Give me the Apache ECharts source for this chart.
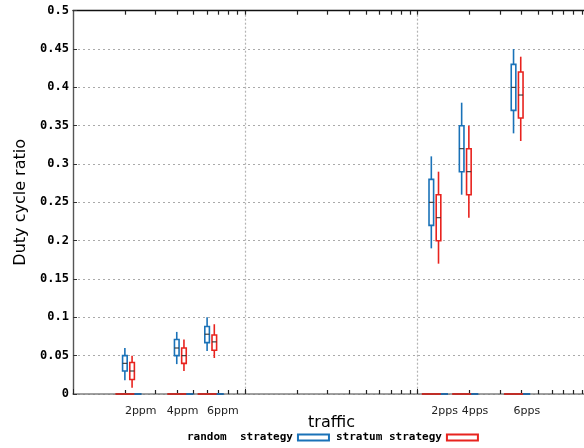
<!DOCTYPE html>
<html>
<head>
<meta charset="utf-8">
<script src="https://cdn.jsdelivr.net/npm/echarts@6/dist/echarts.min.js"></script>
<style>
  html, body { margin: 0; padding: 0; background: #fff; }
  #chart { width: 584px; height: 448px; }
</style>
</head>
<body>
<div id="chart"></div>
<script>
// Traffic levels (x position in packets per minute, log axis)
const categories = ['2ppm', '4ppm', '6ppm', '2pps', '4pps', '6pps'];
const trafficPpm = [2, 4, 6, 120, 180, 360];
const labelAt = [2, 3.5, 6, 120, 180, 360];

// Duty cycle ratio, random strategy
const randomMin = [0.018, 0.039, 0.056, 0.19, 0.26, 0.34];
const randomQ1 = [0.030, 0.050, 0.067, 0.22, 0.29, 0.37];
const randomMedian = [0.040, 0.060, 0.078, 0.25, 0.32, 0.40];
const randomQ3 = [0.050, 0.071, 0.088, 0.28, 0.35, 0.43];
const randomMax = [0.060, 0.081, 0.100, 0.31, 0.38, 0.45];

// Duty cycle ratio, stratum strategy
const stratumMin = [0.008, 0.030, 0.047, 0.17, 0.23, 0.33];
const stratumQ1 = [0.019, 0.040, 0.057, 0.20, 0.26, 0.36];
const stratumMedian = [0.030, 0.050, 0.068, 0.23, 0.29, 0.39];
const stratumQ3 = [0.041, 0.060, 0.077, 0.26, 0.32, 0.42];
const stratumMax = [0.050, 0.071, 0.091, 0.29, 0.35, 0.44];

// Flat baseline bars at zero
const randomBase = [0, 0, 0, 0, 0, 0];
const stratumBase = [0, 0, 0, 0, 0, 0];

const yTicks = [0, 0.05, 0.1, 0.15, 0.2, 0.25, 0.3, 0.35, 0.4, 0.45, 0.5];

const RANDOM = 'random  strategy';
const STRATUM = 'stratum strategy';
const BLUE = '#1a72b8';
const RED = '#e8231e';

// minor + major tick positions for the log axis
const logTicks = [];
[1, 10, 100].forEach(function (d) {
  for (let k = 2; k <= 10; k++) logTicks.push(k * d);
});

function boxData(mins, q1, med, q3, maxs) {
  return trafficPpm.map(function (x, i) {
    return [x, mins[i], q1[i], med[i], q3[i], maxs[i]];
  });
}
function baseData(vals) {
  return trafficPpm.map(function (x, i) { return [x, vals[i]]; });
}

function boxRenderer(color, shift) {
  return function (params, api) {
    const x = api.value(0);
    const pMin = api.coord([x, api.value(1)]);
    const pQ1 = api.coord([x, api.value(2)]);
    const pMed = api.coord([x, api.value(3)]);
    const pQ3 = api.coord([x, api.value(4)]);
    const pMax = api.coord([x, api.value(5)]);
    const cx = pMed[0] + shift;
    const w = 4.6;
    const lw = 1.6;
    return {
      type: 'group',
      children: [
        { type: 'line', shape: { x1: cx, y1: pMin[1], x2: cx, y2: pQ1[1] },
          style: { stroke: color, lineWidth: lw } },
        { type: 'line', shape: { x1: cx, y1: pQ3[1], x2: cx, y2: pMax[1] },
          style: { stroke: color, lineWidth: lw } },
        { type: 'rect', shape: { x: cx - w / 2, y: pQ3[1], width: w, height: pQ1[1] - pQ3[1] },
          style: { fill: 'rgba(0,0,0,0)', stroke: color, lineWidth: lw } },
        { type: 'line', shape: { x1: cx - w / 2, y1: pMed[1], x2: cx + w / 2, y2: pMed[1] },
          style: { stroke: '#333', lineWidth: 1.1 } }
      ]
    };
  };
}

function baseRenderer(color, shift) {
  return function (params, api) {
    const p = api.coord([api.value(0), api.value(1)]);
    const cx = p[0] + shift;
    return {
      type: 'line',
      shape: { x1: cx - 9.5, y1: p[1], x2: cx + 9.5, y2: p[1] },
      style: { stroke: color, lineWidth: 2 }
    };
  };
}

const RED_SHIFT = 7.2;

const chart = echarts.init(document.getElementById('chart'), null, { renderer: 'canvas' });

chart.setOption({
  animation: false,
  backgroundColor: '#fff',
  grid: { left: 73, top: 10.7, width: 517, height: 383.3, containLabel: false, outerBoundsMode: 'none' },
  legend: {
    left: 182,
    top: 427,
    align: 'right',
    itemWidth: 31,
    itemHeight: 6,
    itemGap: 6,
    selectedMode: false,
    textStyle: { fontFamily: 'DejaVu Sans Mono', fontWeight: 'bold', fontSize: 11, color: '#000' },
    data: [
      { name: RANDOM, icon: 'rect', itemStyle: { color: 'rgba(0,0,0,0)', borderColor: BLUE, borderWidth: 2 } },
      { name: STRATUM, icon: 'rect', itemStyle: { color: 'rgba(0,0,0,0)', borderColor: RED, borderWidth: 2 } }
    ]
  },
  xAxis: [
    {
      type: 'log', logBase: 10, min: 1, max: 1000, position: 'bottom',
      name: 'traffic', nameLocation: 'middle', nameGap: 21, nameMoveOverlap: false,
      nameTextStyle: { fontFamily: 'DejaVu Sans', fontSize: 16, color: '#000' },
      axisLine: { show: true, lineStyle: { color: '#808080', width: 1.5 } },
      axisTick: { show: true, inside: true, length: 5, lineStyle: { color: '#222' } },
      axisLabel: {
        customValues: labelAt,
        align: 'left',
        margin: 12,
        fontFamily: 'DejaVu Sans', fontSize: 11, color: '#222',
        formatter: function (v) {
          for (let i = 0; i < labelAt.length; i++) {
            if (Math.abs(labelAt[i] - v) < 1e-6 * labelAt[i]) return categories[i];
          }
          return '';
        }
      },
      splitLine: { show: true, showMinLine: false, lineStyle: { color: '#b4b4b4', type: [2, 2], width: 1.2 } }
    },
    {
      type: 'log', logBase: 10, min: 1, max: 1000, position: 'bottom',
      axisLine: { show: false },
      axisTick: { show: true, inside: true, length: 4, customValues: logTicks, lineStyle: { color: '#222', width: 1.2 } },
      axisLabel: { show: false },
      splitLine: { show: false }
    },
    {
      type: 'log', logBase: 10, min: 1, max: 1000, position: 'top',
      axisLine: { show: true, lineStyle: { color: '#111', width: 1.4 } },
      axisTick: { show: true, inside: true, length: 4, customValues: logTicks, lineStyle: { color: '#222', width: 1.2 } },
      axisLabel: { show: false },
      splitLine: { show: false }
    }
  ],
  yAxis: {
    type: 'value', min: 0, max: 0.5, interval: 0.05,
    name: 'Duty cycle ratio', nameLocation: 'middle', nameGap: 44, nameMoveOverlap: false,
    nameTextStyle: { fontFamily: 'DejaVu Sans', fontSize: 16, color: '#000' },
    axisLine: { show: true, lineStyle: { color: '#555', width: 1.4 } },
    axisTick: { show: true, inside: true, length: 4, lineStyle: { color: '#333' } },
    axisLabel: {
      margin: 4,
      fontFamily: 'DejaVu Sans Mono', fontWeight: 'bold', fontSize: 12, color: '#000',
      customValues: yTicks
    },
    splitLine: { show: true, lineStyle: { color: '#aaaaaa', type: [2, 3], width: 1 } }
  },
  series: [
    {
      name: RANDOM, type: 'custom', coordinateSystem: 'cartesian2d',
      xAxisIndex: 0, yAxisIndex: 0,
      itemStyle: { color: BLUE },
      encode: { x: 0, y: 1 },
      renderItem: baseRenderer('#2468a2', RED_SHIFT),
      data: baseData(randomBase), z: 3
    },
    {
      name: STRATUM, type: 'custom', coordinateSystem: 'cartesian2d',
      xAxisIndex: 0, yAxisIndex: 0,
      itemStyle: { color: RED },
      encode: { x: 0, y: 1 },
      renderItem: baseRenderer('#bf2e28', 0),
      data: baseData(stratumBase), z: 4
    },
    {
      name: RANDOM, type: 'custom', coordinateSystem: 'cartesian2d',
      xAxisIndex: 0, yAxisIndex: 0,
      itemStyle: { color: BLUE },
      encode: { x: 0, y: [1, 2, 3, 4, 5] },
      renderItem: boxRenderer(BLUE, 0),
      data: boxData(randomMin, randomQ1, randomMedian, randomQ3, randomMax), z: 5
    },
    {
      name: STRATUM, type: 'custom', coordinateSystem: 'cartesian2d',
      xAxisIndex: 0, yAxisIndex: 0,
      itemStyle: { color: RED },
      encode: { x: 0, y: [1, 2, 3, 4, 5] },
      renderItem: boxRenderer(RED, RED_SHIFT),
      data: boxData(stratumMin, stratumQ1, stratumMedian, stratumQ3, stratumMax), z: 5
    }
  ]
});
</script>
</body>
</html>
